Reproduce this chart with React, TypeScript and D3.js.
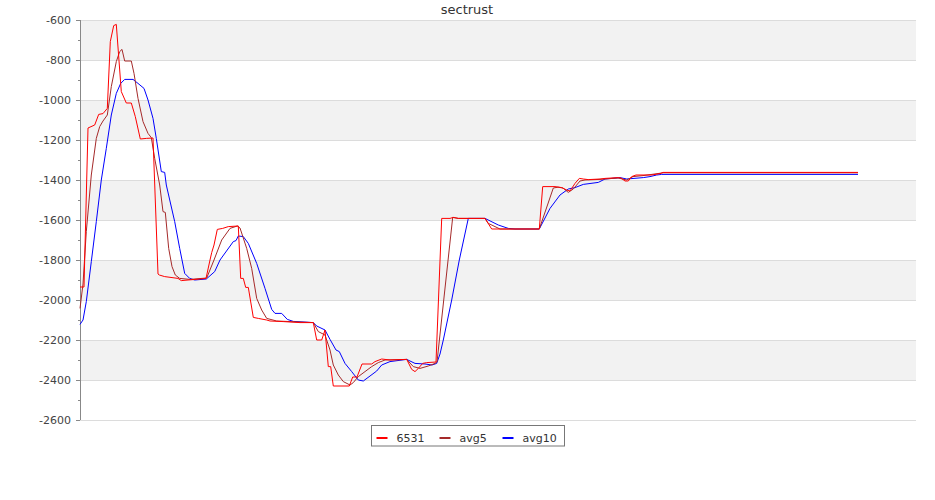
import { useMemo } from "react"
import * as d3 from "d3"

// sample position (t) and value for each series
const rawT = [0, 4, 8, 14.7, 18.7, 23, 27.3, 30.3, 33.7, 36.3, 41.3, 46.3, 51.3, 55.3, 60.3, 66.3, 73, 78, 79.3, 84.7, 98, 101.3, 108, 120, 126, 130, 131.7, 134, 137.3, 142.7, 148.3, 158.3, 160.7, 163.3, 165.7, 168.3, 173.3, 178.3, 186.7, 190, 203.3, 220, 233.3, 236.7, 241.7, 245, 248.3, 250.7, 253.3, 269.3, 272.7, 277, 282, 291.7, 295, 301.7, 310, 326.7, 331.7, 335, 338.3, 342.7, 346.7, 356, 361.7, 370, 373.3, 378.3, 405, 411.7, 459.3, 462.7, 475, 481.7, 486.7, 490, 495, 499.3, 503.3, 508.3, 520, 525, 538.3, 541, 545, 548.3, 551.7, 556, 571.7, 580, 583, 778]
const rawV = [-1935, -1935, -1140, -1125, -1072, -1068, -1042, -708, -628, -622, -958, -1015, -1015, -1083, -1195, -1192, -1190, -1870, -1875, -1883, -1892, -1903, -1900, -1895, -1892, -1800, -1763, -1725, -1647, -1642, -1633, -1630, -1892, -1892, -1937, -1937, -2087, -2092, -2100, -2105, -2108, -2113, -2113, -2200, -2200, -2150, -2333, -2333, -2430, -2430, -2385, -2385, -2320, -2320, -2308, -2295, -2300, -2297, -2347, -2358, -2342, -2317, -2313, -2310, -1592, -1592, -1587, -1592, -1592, -1645, -1645, -1433, -1433, -1438, -1450, -1455, -1417, -1392, -1395, -1398, -1395, -1392, -1388, -1390, -1405, -1405, -1383, -1375, -1375, -1368, -1362, -1362]

const avg5T = [0, 3, 6.3, 11.3, 16.3, 19.7, 23, 27.3, 31.3, 36.3, 39.7, 42, 44.7, 51.3, 54, 58, 63, 68, 71.3, 74.7, 79.7, 83, 85.3, 88.7, 92, 95.3, 99.7, 110, 126.7, 134, 141.7, 150, 157.3, 160, 166.7, 171.7, 176.7, 181.7, 186.7, 196.7, 220, 233.3, 238.3, 245, 250, 253.3, 258.3, 263.3, 270, 273.3, 278.3, 285, 291.7, 298.3, 305, 326.7, 333.3, 340, 348.3, 355, 357, 372.7, 378.3, 405, 408.3, 420, 459.3, 473.3, 478, 483, 488.3, 493.3, 500, 505, 520, 538, 546.7, 553, 563, 583.3, 778]
const avg5V = [-2042, -1920, -1658, -1375, -1192, -1133, -1105, -1075, -933, -808, -758, -747, -805, -805, -867, -992, -1108, -1167, -1188, -1292, -1425, -1558, -1562, -1742, -1833, -1875, -1892, -1897, -1890, -1800, -1700, -1642, -1630, -1640, -1742, -1842, -1992, -2050, -2092, -2105, -2110, -2113, -2158, -2175, -2250, -2325, -2375, -2408, -2425, -2413, -2383, -2358, -2333, -2313, -2300, -2297, -2333, -2342, -2330, -2317, -2310, -1587, -1592, -1592, -1617, -1645, -1645, -1440, -1436, -1440, -1462, -1445, -1405, -1400, -1397, -1390, -1400, -1383, -1378, -1364, -1364]

const avg10T = [0, 3, 6.3, 11.3, 16.3, 21.3, 26.3, 31.3, 36.3, 40.7, 44.7, 53, 58, 64, 68, 73, 76.3, 81.3, 84.7, 86.3, 94.7, 99.7, 104.7, 109.7, 114.7, 126.3, 134.7, 140, 153.3, 156, 158.3, 163.3, 168.3, 176.7, 185, 191.7, 195, 201.7, 207.3, 213.3, 233.3, 236.7, 245, 250, 256, 259.3, 265, 271.7, 278.3, 283.3, 290, 296.7, 301.7, 310, 326.7, 335, 345, 352, 356.7, 360, 363.3, 371.7, 379.3, 388.3, 405, 418.3, 428.3, 435, 459.3, 470, 480, 488.3, 495, 503.3, 518.3, 525, 540, 546.7, 563.3, 570, 576.7, 581.7, 778]
const avg10V = [-2122, -2100, -2008, -1808, -1608, -1400, -1242, -1075, -967, -917, -897, -897, -917, -942, -1000, -1092, -1192, -1358, -1362, -1425, -1608, -1742, -1867, -1892, -1900, -1895, -1858, -1800, -1708, -1703, -1680, -1683, -1717, -1817, -1942, -2047, -2067, -2067, -2097, -2107, -2113, -2130, -2150, -2197, -2250, -2258, -2317, -2358, -2400, -2405, -2380, -2355, -2325, -2308, -2297, -2317, -2320, -2325, -2317, -2270, -2200, -2000, -1800, -1592, -1592, -1625, -1642, -1645, -1645, -1542, -1475, -1445, -1438, -1422, -1412, -1395, -1388, -1395, -1388, -1383, -1375, -1372, -1372]

const yTicks = [-600, -800, -1000, -1200, -1400, -1600, -1800, -2000, -2200, -2400, -2600]
const seriesNames = ["6531", "avg5", "avg10"]
const seriesColors = ["#ff0000", "#a52a2a", "#0000ff"]

const W = 935
const H = 500
const margin = { top: 20, right: 19, bottom: 80, left: 80 }
const font = "'DejaVu Sans', sans-serif"

export default function App() {
  const x = d3.scaleLinear().domain([0, 836]).range([margin.left, W - margin.right])
  const y = d3.scaleLinear().domain([-2600, -600]).range([H - margin.bottom, margin.top])

  const paths = useMemo(() => {
    const line = d3.line<[number, number]>()
      .x(d => x(d[0]))
      .y(d => y(d[1]))
    const zip = (t: number[], v: number[]) => t.map((d, i) => [d, v[i]] as [number, number])
    return [zip(rawT, rawV), zip(avg5T, avg5V), zip(avg10T, avg10V)].map(s => line(s) || "")
  }, [])

  const minorTicks = d3.range(-2600, -599, 100).filter(v => v % 200 !== 0)
  const x0 = margin.left
  const x1 = W - margin.right

  // legend geometry
  const legendX = 371.5
  const legendY = 425.5
  const itemX = [0, 63, 126]

  return (
    <svg width={W} height={H} style={{ position: "absolute", left: 0, top: 0, fontFamily: font }}>
      <rect width={W} height={H} fill="#fff" />
      <text x={467} y={14} textAnchor="middle" fontSize={13} fill="#333">sectrust</text>

      {/* alternating bands */}
      {yTicks.slice(0, -1).map((v, i) => i % 2 === 0 ? (
        <rect key={v} x={x0} y={y(v)} width={x1 - x0} height={y(v - 200) - y(v)} fill="#f2f2f2" />
      ) : null)}

      {/* gridlines */}
      {yTicks.map(v => (
        <line key={v} x1={x0} x2={x1} y1={Math.round(y(v)) + 0.5} y2={Math.round(y(v)) + 0.5} stroke="#dcdcdc" />
      ))}

      {/* y axis */}
      <line x1={x0 + 0.5} x2={x0 + 0.5} y1={y(-600)} y2={y(-2600)} stroke="#888" />
      {yTicks.map(v => (
        <g key={v}>
          <line x1={x0 - 4} x2={x0} y1={Math.round(y(v)) + 0.5} y2={Math.round(y(v)) + 0.5} stroke="#888" />
          <text x={x0 - 9} y={y(v) + 4} textAnchor="end" fontSize={11} fill="#444">{v}</text>
        </g>
      ))}
      {minorTicks.map(v => (
        <line key={v} x1={x0 - 2} x2={x0} y1={Math.round(y(v)) + 0.5} y2={Math.round(y(v)) + 0.5} stroke="#888" />
      ))}

      {/* series, first series drawn on top */}
      {[2, 1, 0].map(i => (
        <path key={i} d={paths[i]} fill="none" stroke={seriesColors[i]} strokeWidth={1} />
      ))}

      {/* legend */}
      <rect x={legendX} y={legendY} width={193} height={20.5} fill="#fff" stroke="#777" />
      {seriesNames.map((n, i) => (
        <g key={n} transform={`translate(${legendX + 5 + itemX[i]},${legendY + 12})`}>
          <line x1={0} x2={11} y1={0.5} y2={0.5} stroke={seriesColors[i]} strokeWidth={2} />
          <text x={20} y={4} fontSize={11} fill="#333">{n}</text>
        </g>
      ))}
    </svg>
  )
}
